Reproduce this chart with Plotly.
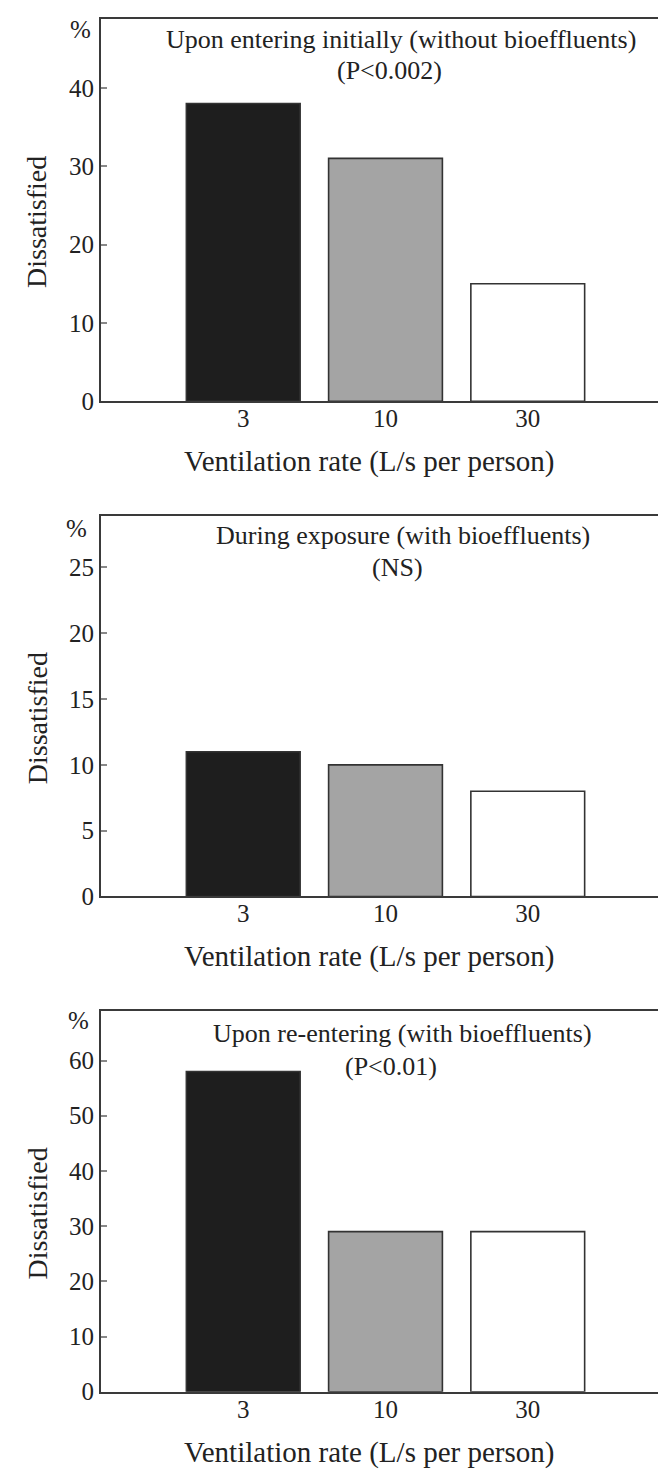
import plotly.graph_objects as go

W, H = 666, 1475

# ventilation rates (L/s per person)
rates = ["3", "10", "30"]
bar_colors = ["#1e1e1e", "#a4a4a4", "#ffffff"]

# % dissatisfied
entering_initially = [38, 31, 15]
during_exposure = [11, 10, 8]
re_entering = [58, 29, 29]

panel_values = [entering_initially, during_exposure, re_entering]
panel_titles = [
    "Upon entering initially (without bioeffluents)",
    "During exposure (with bioeffluents)",
    "Upon re-entering (with bioeffluents)",
]
panel_stats = ["(P<0.002)", "(NS)", "(P<0.01)"]
y_ticks = [[0, 10, 20, 30, 40], [0, 5, 10, 15, 20, 25], [0, 10, 20, 30, 40, 50, 60]]
y_max = [48.8, 28.9, 68.9]

# layout in pixels (frame top/bottom, text centres)
frames = [(11, 397), (513, 897), (1013, 1397)]
title_pos = [(393, 32), (395, 533), (394, 1035)]
stat_pos = [(381, 63), (389, 565), (383, 1069)]
pct_pos = [(72, 22), (68, 525), (70, 1022)]
FRAME_L, FRAME_R = 93, 662

FONT = "Liberation Serif"
INK = "#222222"


def px(x):
    return x / W


def py(y):
    return 1 - y / H


def label(text, x, y, size, angle=0):
    fig.add_annotation(text=text, xref="paper", yref="paper",
                       x=px(x), y=py(y), xanchor="center", yanchor="middle",
                       textangle=angle, showarrow=False,
                       font=dict(family=FONT, size=size, color=INK))


fig = go.Figure()

for i, vals in enumerate(panel_values):
    n = "" if i == 0 else str(i + 1)
    top, bottom = frames[i]

    fig.add_trace(go.Bar(
        x=rates, y=vals,
        xaxis="x" + n, yaxis="y" + n,
        width=0.8,
        marker=dict(color=bar_colors, line=dict(color="#333333", width=1.6)),
        showlegend=False,
    ))

    fig.layout["xaxis" + n] = dict(
        domain=[px(FRAME_L), px(FRAME_R)], anchor="y" + n,
        type="category", range=[-1, 3],
        showline=True, mirror=True, linecolor="#3a3a3a", linewidth=2,
        ticks="", showgrid=False, zeroline=False, ticklabelstandoff=-6,
        tickfont=dict(family=FONT, size=25, color=INK),
    )
    fig.layout["yaxis" + n] = dict(
        domain=[py(bottom), py(top)], anchor="x" + n,
        range=[0, y_max[i]], tickvals=y_ticks[i],
        showline=True, mirror=True, linecolor="#3a3a3a", linewidth=2,
        ticks="inside", ticklen=6, tickwidth=1.5, tickcolor="#888888",
        showgrid=False, zeroline=False,
        tickfont=dict(family=FONT, size=25, color=INK),
    )

    label(panel_titles[i], *title_pos[i], 26)
    label(panel_stats[i], *stat_pos[i], 26)
    label("%", *pct_pos[i], 25)
    label("Dissatisfied", 29, (top + bottom) / 2 + 12, 28, angle=-90)
    label("Ventilation rate (L/s per person)", 361, bottom + 61, 29)

fig.update_layout(
    width=W, height=H,
    margin=dict(l=0, r=0, t=0, b=0),
    paper_bgcolor="white", plot_bgcolor="white",
    bargap=0.2,
)

fig.write_html("out.html")
